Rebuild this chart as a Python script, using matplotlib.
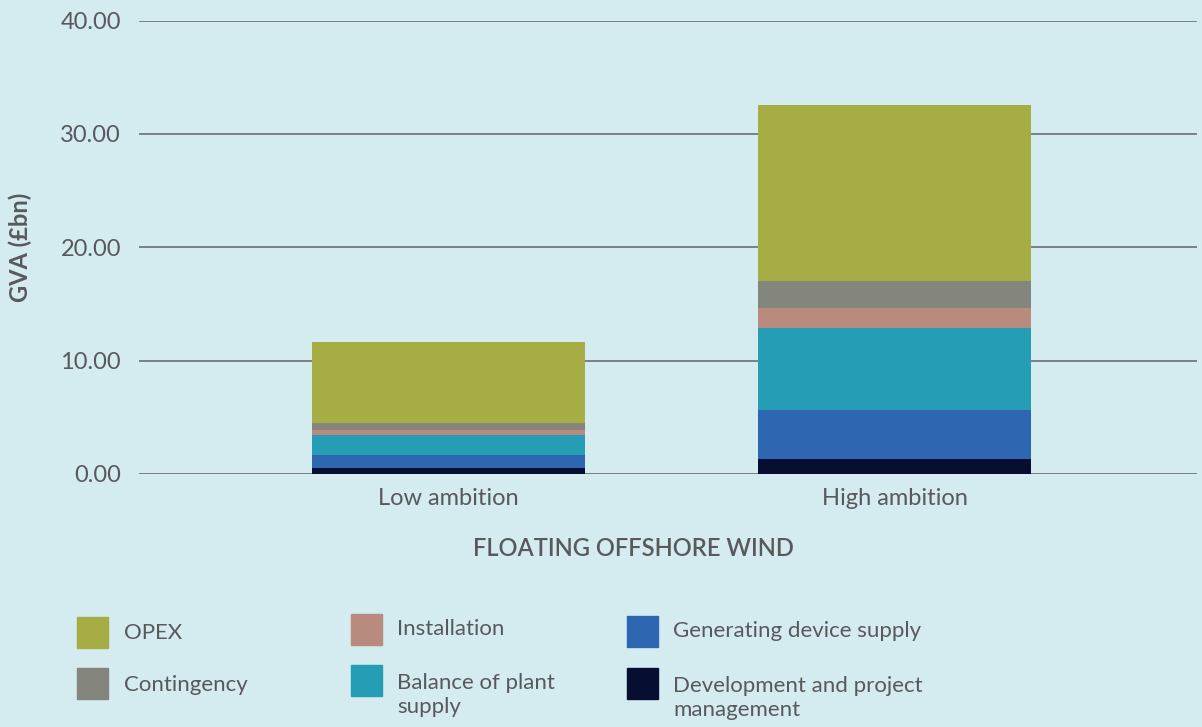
import matplotlib.pyplot as plt
from matplotlib.patches import Rectangle

scenarios = ['Low ambition', 'High ambition']
# stacked from bottom to top
segments = ['Development and project\nmanagement', 'Generating device supply',
            'Balance of plant\nsupply', 'Installation', 'Contingency', 'OPEX']
values = {
    'Development and project\nmanagement': [0.53, 1.32],
    'Generating device supply': [1.15, 4.32],
    'Balance of plant\nsupply': [1.76, 7.23],
    'Installation': [0.44, 1.76],
    'Contingency': [0.62, 2.38],
    'OPEX': [7.14, 15.52],
}
colors = {
    'Development and project\nmanagement': '#060e31',
    'Generating device supply': '#2e67b1',
    'Balance of plant\nsupply': '#249db5',
    'Installation': '#b98a7e',
    'Contingency': '#84857c',
    'OPEX': '#a6ad45',
}
yticks = [0, 10, 20, 30, 40]

BG = '#d4ebef'
TXT = '#58595b'
plt.rcParams['font.family'] = ['Lato', 'DejaVu Sans']

fig = plt.figure(figsize=(12.02, 7.27), dpi=100, facecolor=BG)
ax = fig.add_axes([139 / 1202, 1 - 474 / 727, 1058 / 1202, 453.5 / 727])
ax.set_facecolor(BG)

x = [0, 1]
bottom = [0, 0]
for s in segments:
    ax.bar(x, values[s], bottom=bottom, width=0.612, color=colors[s], zorder=3)
    bottom = [b + v for b, v in zip(bottom, values[s])]

ax.set_xlim(-0.694, 1.678)
ax.set_ylim(0, 40)
ax.set_yticks(yticks)
ax.set_yticklabels([f'{t:.2f}' for t in yticks], fontsize=17, color=TXT)
ax.set_xticks(x)
ax.set_xticklabels(scenarios, fontsize=17, color=TXT)
ax.tick_params(axis='y', length=0, pad=13)
ax.tick_params(axis='x', length=0, pad=10)
ax.grid(axis='y', color='#6d6e70', linewidth=1.2, zorder=0)
for sp in ax.spines.values():
    sp.set_visible(False)
ax.set_ylabel('GVA (£bn)', fontsize=17, color=TXT, fontweight='bold')
ax.yaxis.set_label_coords(-0.101, 0.5)

fig.text(633 / 1202, 1 - 548 / 727, 'FLOATING OFFSHORE WIND', fontsize=17,
         color=TXT, ha='center', va='center', fontweight='semibold')

# legend, built by hand
legend_items = [
    ('OPEX', 77, 617, 124, 633),
    ('Contingency', 77, 668, 124, 685),
    ('Installation', 351, 614, 397, 629),
    ('Balance of plant\nsupply', 351, 665, 397, 695),
    ('Generating device supply', 627, 616, 673, 631),
    ('Development and project\nmanagement', 627, 668, 673, 698),
]
for name, px, py, tx, ty in legend_items:
    fig.patches.append(Rectangle((px / 1202, 1 - (py + 31) / 727), 31 / 1202, 31 / 727,
                                 transform=fig.transFigure, color=colors[name]))
    fig.text(tx / 1202, 1 - ty / 727, name, fontsize=16, color=TXT,
             ha='left', va='center', linespacing=1.2)

fig.savefig('out.png', dpi=100, facecolor=BG)
